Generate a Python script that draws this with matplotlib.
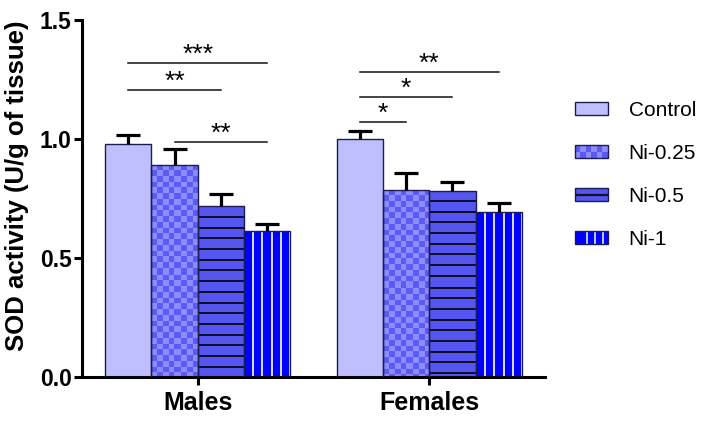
import numpy as np
import matplotlib
matplotlib.use("Agg")
import matplotlib.pyplot as plt
from matplotlib.patches import Rectangle
from matplotlib.lines import Line2D
from matplotlib.legend_handler import HandlerBase

# ---------------- data ----------------
groups = ["Males", "Females"]
treatments = ["Control", "Ni-0.25", "Ni-0.5", "Ni-1"]
males_mean = [0.979, 0.892, 0.718, 0.615]
males_sem = [0.038, 0.066, 0.051, 0.027]
females_mean = [1.000, 0.786, 0.783, 0.695]
females_sem = [0.034, 0.070, 0.035, 0.034]
y_ticks = [0.0, 0.5, 1.0, 1.5]
y_label = "SOD activity (U/g of tissue)"
# significance: (group index, bar i, bar j, y level, label)
sig_marks = [
    (0, 0, 3, 1.319, "***"),
    (0, 0, 2, 1.206, "**"),
    (0, 1, 3, 0.987, "**"),
    (1, 0, 3, 1.281, "**"),
    (1, 0, 2, 1.176, "*"),
    (1, 0, 1, 1.071, "*"),
]

# ---------------- style ----------------
plt.rcParams["font.family"] = ["Liberation Sans", "DejaVu Sans"]
C_CTRL = "#bfbfff"
C_CHK_D = "#5a5af5"
C_CHK_L = "#8c8cff"
C_HL = "#5555f0"
C_VL = "#0000ff"
C_EDGE = "#1c1c50"

W, H, DPI = 703, 429, 100
fig = plt.figure(figsize=(W / DPI, H / DPI), dpi=DPI)
ax = fig.add_axes([82 / W, 1 - 377 / H, (545 - 82) / W, (377 - 20) / H])
ax.set_xlim(-0.5, 1.5)
ax.set_ylim(0, 1.5)

bar_w = 0.2
means = [males_mean, females_mean]
sems = [males_sem, females_sem]

# pixel scale
p0 = ax.transData.transform((0, 0))
p1 = ax.transData.transform((1, 1))
px_x = p1[0] - p0[0]
px_y = p1[1] - p0[1]


def rgb(hx):
    return np.array(matplotlib.colors.to_rgb(hx))


def texture(kind, h, w):
    r = np.arange(h)[:, None] * np.ones((1, w))
    c = np.ones((h, 1)) * np.arange(w)[None, :]
    img = np.zeros((h, w, 3))
    if kind == 0:
        img[:] = rgb(C_CTRL)
    elif kind == 1:
        s = 5.75
        m = ((np.floor(r / s) + np.floor(c / s)) % 2) == 0
        img[:] = rgb(C_CHK_D)
        img[m] = rgb(C_CHK_L)
    elif kind == 2:
        img[:] = rgb(C_HL)
        m = ((r - 9.5) % 10.7) < 2.0
        img[m] = rgb("#10102a")
    else:
        img[:] = rgb(C_VL)
        m = ((c - 7.8) % 9.0) < 1.6
        img[m] = rgb("#d8d8ff")
    return img


for g, gname in enumerate(groups):
    for i, tname in enumerate(treatments):
        xc = g + (i - 1.5) * bar_w
        val = means[g][i]
        bars = ax.bar(xc, val, width=bar_w, facecolor="none",
                      edgecolor=C_EDGE, linewidth=1.0, zorder=3)
        patch = bars.patches[0]
        hpx = int(round(val * px_y))
        wpx = int(round(bar_w * px_x))
        im = ax.imshow(texture(i, hpx, wpx), extent=(xc - bar_w / 2, xc + bar_w / 2, 0, val),
                       origin="upper", interpolation="nearest", aspect="auto", zorder=2)
        im.set_clip_path(patch)
        eb = ax.errorbar(xc, val, yerr=[[0], [sems[g][i]]], fmt="none", ecolor="black",
                         elinewidth=2.3, capsize=8.5, capthick=2.3, zorder=4)
        caps = eb[1]
        if len(caps) >= 2:
            caps[0].set_visible(False)

ax.set_xlim(-0.5, 1.5)
ax.set_ylim(0, 1.5)

# significance marks
for g, i, j, yv, lab in sig_marks:
    xi = g + (i - 1.5) * bar_w
    xj = g + (j - 1.5) * bar_w
    ax.plot([xi, xj], [yv, yv], color="#111111", lw=1.1, zorder=5, clip_on=False)
    ax.text((xi + xj) / 2, yv + 0.006, lab, ha="center", va="baseline",
            fontsize=19, color="black", zorder=5)

# axes style
for s in ["top", "right"]:
    ax.spines[s].set_visible(False)
for s in ["left", "bottom"]:
    ax.spines[s].set_linewidth(2.2)
ax.set_yticks(y_ticks)
ax.set_yticklabels([f"{v:.1f}" for v in y_ticks], fontsize=16.5, fontweight="bold")
ax.set_xticks([0, 1])
ax.set_xticklabels(groups, fontsize=18, fontweight="bold")
ax.tick_params(axis="both", width=2.2, length=6, direction="out")
ax.tick_params(axis="y", pad=1.5)
ax.tick_params(axis="x", pad=4)

fig.text(17 / W, 1 - 186 / H, y_label, rotation=90, ha="center", va="center",
         fontsize=18.5, fontweight="bold")


# legend with textured handles
class TexHandler(HandlerBase):
    def __init__(self, kind):
        super().__init__()
        self.kind = kind

    def create_artists(self, legend, orig_handle, xdescent, ydescent,
                       width, height, fontsize, trans):
        x0, y0 = -xdescent, -ydescent
        arts = []
        k = self.kind
        base = {0: C_CTRL, 1: C_CHK_D, 2: C_HL, 3: C_VL}[k]
        arts.append(Rectangle((x0, y0), width, height, facecolor=base, edgecolor="none"))
        if k == 1:
            nr, nc = 2, 6
            cw, ch = width / nc, height / nr
            for a in range(nr):
                for b in range(nc):
                    if (a + b) % 2 == 0:
                        arts.append(Rectangle((x0 + b * cw, y0 + a * ch), cw, ch,
                                              facecolor=C_CHK_L, edgecolor="none"))
        elif k == 2:
            arts.append(Line2D([x0, x0 + width], [y0 + height / 2] * 2,
                               color="#10102a", lw=1.6, solid_capstyle="butt"))
        elif k == 3:
            for f in (0.35, 0.6, 0.84):
                arts.append(Line2D([x0 + f * width] * 2, [y0, y0 + height],
                                   color="#d8d8ff", lw=1.3, solid_capstyle="butt"))
        arts.append(Rectangle((x0, y0), width, height, facecolor="none",
                              edgecolor=C_EDGE, lw=1.0))
        for a in arts:
            a.set_transform(trans)
        return arts


proxies = [Rectangle((0, 0), 1, 1, label=t) for t in treatments]
hmap = {p: TexHandler(k) for k, p in enumerate(proxies)}
fig.legend(handles=proxies, labels=treatments, handler_map=hmap,
           loc="upper left", bbox_to_anchor=(575 / W, 1 - 101 / H),
           bbox_transform=fig.transFigure, frameon=False, fontsize=15,
           handlelength=1.58, handleheight=0.53, handletextpad=1.0,
           labelspacing=1.15, borderpad=0, borderaxespad=0)

fig.savefig("out.png", dpi=DPI)
